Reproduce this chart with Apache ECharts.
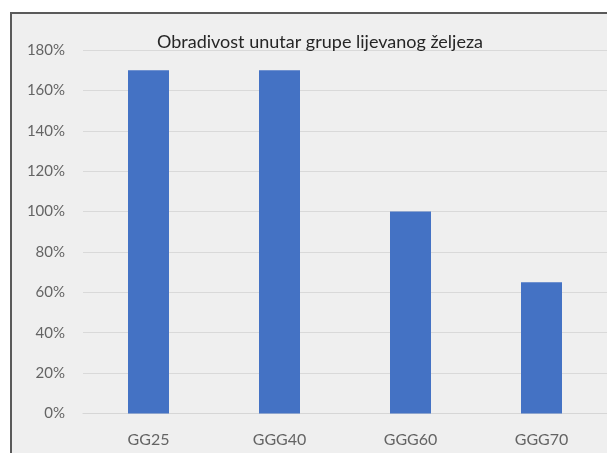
<!DOCTYPE html>
<html>
<head>
<meta charset="utf-8">
<script src="https://cdn.jsdelivr.net/npm/echarts@6/dist/echarts.min.js"></script>
<style>
  html, body { margin: 0; padding: 0; background: #ffffff; }
  #chart {
    position: absolute; left: 10px; top: 12px;
    width: 595px; height: 439px;
    border-left: 2px solid #5a5a5a; border-top: 2px solid #5a5a5a;
    background: #efefef;
  }
</style>
</head>
<body>
<div id="chart"></div>
<script>
// data
var categories = ['GG25', 'GGG40', 'GGG60', 'GGG70'];
var values = [1.70, 1.70, 1.00, 0.65];
var yMin = 0, yMax = 1.8, yStep = 0.2;

var myChart = echarts.init(document.getElementById('chart'));
myChart.setOption({
  backgroundColor: 'transparent',
  animation: false,
  title: {
    text: 'Obradivost unutar grupe lijevanog željeza',
    left: 140,
    top: 14,
    textStyle: { fontFamily: 'Lato', fontSize: 18, fontWeight: 'normal', color: '#262626' }
  },
  grid: { left: 71, right: 0, top: 36, bottom: 39.5 },
  xAxis: {
    type: 'category',
    data: categories,
    axisLine: { show: true, lineStyle: { color: '#d6d6d6', width: 1 } },
    axisTick: { show: false },
    axisLabel: { margin: 18, fontFamily: 'Lato', fontSize: 16, color: '#646464' }
  },
  yAxis: {
    type: 'value',
    min: yMin, max: yMax, interval: yStep,
    axisLine: { show: false },
    axisTick: { show: false },
    splitLine: { lineStyle: { color: '#d9d9d9', width: 1 } },
    axisLabel: {
      margin: 18, fontFamily: 'Lato', fontSize: 15, color: '#646464',
      formatter: function (v) { return Math.round(v * 100) + '%'; }
    }
  },
  series: [{
    type: 'bar',
    data: values,
    barWidth: 41,
    itemStyle: { color: '#4472c4' }
  }]
});
</script>
</body>
</html>
